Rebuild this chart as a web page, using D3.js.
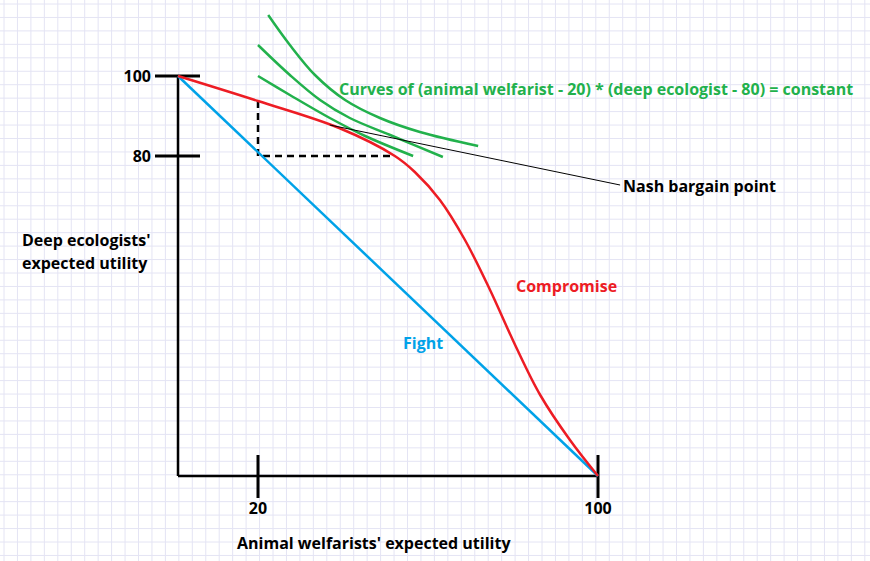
<!DOCTYPE html>
<html>
<head>
<style>
  body { margin: 0; background: #fff; }
  text { font-family: "Open Sans", sans-serif; font-weight: bold; font-size: 16px; }
</style>
<script src="https://d3js.org/d3.v7.min.js"></script>
</head>
<body>
<svg id="chart" width="870" height="561"></svg>
<script>
var xTicks = [20, 100]
var yTicks = [80, 100]
var fight = [[0, 100], [100, 0]]
var compromise = [[0, 100], [20, 93.75], [39.1, 87], [52.2, 80], [56.9, 76], [62.8, 69], [68.7, 59], [74.6, 46.5], [80.5, 32.75], [86.4, 20.25], [93.4, 9], [100, 0]]
var curveA = [[22.4, 115.25], [27.5, 107.75], [33.4, 100.25], [40.5, 94], [48.7, 89.5], [58.1, 86], [71.8, 82.5]]
var curveB = [[20, 107.75], [27.5, 100.25], [34.6, 94], [41.6, 89.5], [51.1, 85.25], [63.5, 79.75]]
var curveC = [[20, 100], [27.5, 95.25], [36.9, 89.5], [45.2, 85], [56.5, 80]]
var tangent = [[36.9, 87.75], [105.2, 72.75]]
var nash = [20, 80, 52.2, 93.75]  // x, y, x-end of horizontal dash, y-top of vertical dash

var svg = d3.select("#chart")
var W = 870, H = 561

// graph paper grid
var grid = svg.append("g").attr("stroke", "#e4e4f4").attr("stroke-width", 1)
grid.selectAll("line.v").data(d3.range(4, W, 13.45)).enter().append("line")
  .attr("x1", d => d).attr("x2", d => d).attr("y1", 0).attr("y2", H)
grid.selectAll("line.h").data(d3.range(4, H, 13.45)).enter().append("line")
  .attr("y1", d => d).attr("y2", d => d).attr("x1", 0).attr("x2", W)

var x = d3.scaleLinear().domain([0, 20, 100]).range([178, 258, 598])
var y = d3.scaleLinear().domain([0, 100]).range([476, 76])

var line = d3.line().x(d => x(d[0])).y(d => y(d[1]))
var smooth = d3.line().x(d => x(d[0])).y(d => y(d[1])).curve(d3.curveCatmullRom)

// axes
svg.append("line").attr("x1", x(0)).attr("x2", x(0)).attr("y1", y(100)).attr("y2", y(0))
  .attr("stroke", "#000").attr("stroke-width", 2.5)
svg.append("line").attr("x1", x(0)).attr("x2", x(100)).attr("y1", y(0)).attr("y2", y(0))
  .attr("stroke", "#000").attr("stroke-width", 2.5)
svg.selectAll("line.yt").data(yTicks).enter().append("line")
  .attr("x1", 155).attr("x2", 200).attr("y1", d => y(d)).attr("y2", d => y(d))
  .attr("stroke", "#000").attr("stroke-width", 3)
svg.selectAll("line.xt").data(xTicks).enter().append("line")
  .attr("y1", 455).attr("y2", 498).attr("x1", d => x(d)).attr("x2", d => x(d))
  .attr("stroke", "#000").attr("stroke-width", 3)
svg.selectAll("text.yt").data(yTicks).enter().append("text")
  .attr("x", 151).attr("y", d => y(d) + 6).attr("text-anchor", "end").text(d => d)
svg.selectAll("text.xt").data(xTicks).enter().append("text")
  .attr("x", d => x(d)).attr("y", 514).attr("text-anchor", "middle").text(d => d)

// dashed lines to Nash point
svg.append("path")
  .attr("d", "M" + x(nash[0]) + "," + y(nash[3]) + "L" + x(nash[0]) + "," + y(nash[1]) + "L" + x(nash[2]) + "," + y(nash[1]))
  .attr("fill", "none").attr("stroke", "#000").attr("stroke-width", 2.5).attr("stroke-dasharray", "7,5")

svg.append("path").attr("d", line(fight)).attr("fill", "none").attr("stroke", "#00a2e8").attr("stroke-width", 2.5)
svg.append("path").attr("d", smooth(compromise)).attr("fill", "none").attr("stroke", "#ed1c24").attr("stroke-width", 2.5)
;[curveA, curveB, curveC].forEach(function(c) {
  svg.append("path").attr("d", smooth(c)).attr("fill", "none").attr("stroke", "#22b14c").attr("stroke-width", 2.5)
})
svg.append("path").attr("d", line(tangent)).attr("fill", "none").attr("stroke", "#000").attr("stroke-width", 1)

// labels
svg.append("text").attr("x", 339).attr("y", 95).attr("fill", "#22b14c")
  .text("Curves of (animal welfarist - 20) * (deep ecologist - 80) = constant")
svg.append("text").attr("x", 623).attr("y", 192).text("Nash bargain point")
svg.append("text").attr("x", 516).attr("y", 292).attr("fill", "#ed1c24").text("Compromise")
svg.append("text").attr("x", 403).attr("y", 349).attr("fill", "#00a2e8").text("Fight")
svg.append("text").attr("x", 22).attr("y", 246).text("Deep ecologists'")
svg.append("text").attr("x", 22).attr("y", 269).text("expected utility")
svg.append("text").attr("x", 237).attr("y", 549).text("Animal welfarists' expected utility")
</script>
</body>
</html>
